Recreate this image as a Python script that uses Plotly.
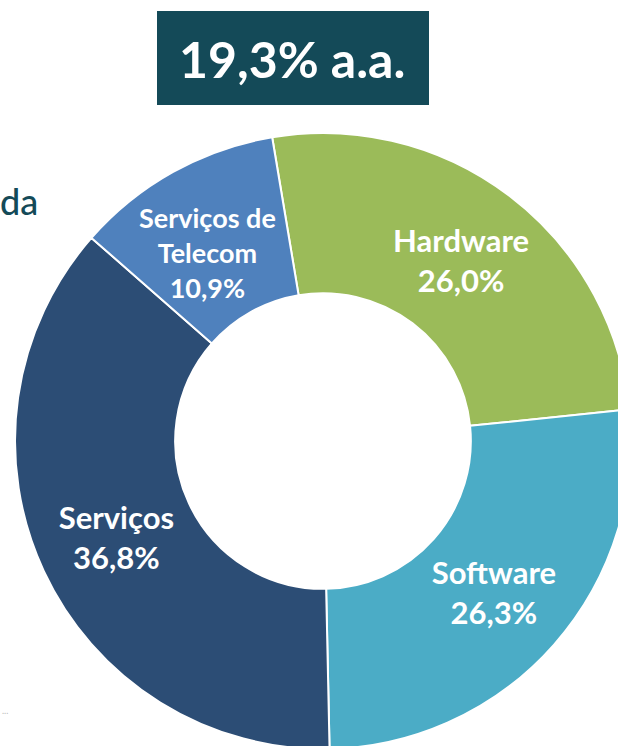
import plotly.graph_objects as go

labels = ["Hardware", "Software", "Serviços", "Serviços de Telecom"]
text_labels = ["Hardware", "Software", "Serviços", "Serviços de<br>Telecom"]
values = [26.0, 26.3, 36.8, 10.9]
colors = ["#9BBB59", "#4BACC6", "#2C4D75", "#4F81BD"]
title_text = "19,3% a.a."

W, H = 640, 760
ML, MT, MR, MB = 15, 133, 9, 11

def px(x):
    return (x - ML) / (W - ML - MR)

def py(y):
    return (H - MB - y) / (H - MT - MB)

# the narrow Telecom slice gets its label as an annotation so Plotly does not shrink it
templates = ["%{text}<br>%{value:.1f}%"] * 3 + [""]

fig = go.Figure(go.Pie(
    labels=labels,
    values=values,
    text=text_labels,
    texttemplate=templates,
    textinfo="text",
    sort=False,
    direction="clockwise",
    rotation=-9.5,
    hole=0.48,
    marker=dict(colors=colors, line=dict(color="white", width=2)),
    textfont=dict(family="Lato", size=31, color="white", weight="bold"),
    insidetextorientation="horizontal",
    textposition="inside",
    showlegend=False,
    hoverinfo="label+percent",
))

tel_label = f"{text_labels[3]}<br>{values[3]:.1f}%".replace(".", ",")
fig.add_annotation(xref="paper", yref="paper", x=px(207), y=py(252),
                   text=tel_label, showarrow=False,
                   font=dict(family="Lato", size=27, color="white", weight="bold"),
                   xanchor="center", yanchor="middle", align="center")

fig.add_shape(type="rect", xref="paper", yref="paper",
              x0=px(157), x1=px(429), y0=py(105), y1=py(11),
              fillcolor="#144A58", line=dict(width=0), layer="above")
fig.add_annotation(xref="paper", yref="paper", x=px(292), y=py(59),
                   text=title_text, showarrow=False,
                   font=dict(family="Lato", size=50, color="white", weight="bold"),
                   xanchor="center", yanchor="middle")
fig.add_annotation(xref="paper", yref="paper", x=px(40), y=py(201),
                   text="da", showarrow=False,
                   font=dict(family="Lato", size=36, color="#144A58", weight=500),
                   xanchor="right", yanchor="middle")
fig.add_annotation(xref="paper", yref="paper", x=px(0), y=py(710),
                   text="...", showarrow=False,
                   font=dict(family="Lato", size=9, color="#BBBBBB"),
                   xanchor="left", yanchor="middle")

fig.update_layout(
    width=W, height=H,
    margin=dict(l=ML, r=MR, t=MT, b=MB, autoexpand=False),
    paper_bgcolor="white",
    plot_bgcolor="white",
    separators=",.",
)

fig.write_html("out.html", config={"displayModeBar": False},
               post_script="document.body.style.margin='0';document.body.style.overflow='hidden';")
